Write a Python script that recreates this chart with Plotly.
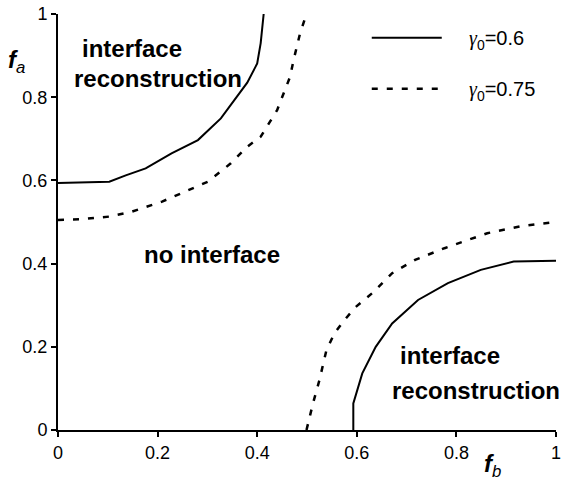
import plotly.graph_objects as go

# Phase boundary f_a(f_b), gamma0 = 0.6: upper-left branch
solid_upper_fb = [0.0, 0.05, 0.103, 0.136, 0.176, 0.228, 0.281, 0.327, 0.354, 0.38, 0.4, 0.407, 0.413]
solid_upper_fa = [0.594, 0.595, 0.597, 0.612, 0.629, 0.665, 0.697, 0.749, 0.793, 0.835, 0.881, 0.93, 1.0]

# gamma0 = 0.6: lower-right branch
solid_lower_fb = [0.593, 0.593, 0.611, 0.638, 0.671, 0.723, 0.783, 0.849, 0.915, 1.0]
solid_lower_fa = [0.0, 0.064, 0.136, 0.2, 0.256, 0.3125, 0.353, 0.385, 0.405, 0.407]

# gamma0 = 0.75: upper-left branch
dash_upper_fb = [0.0, 0.05, 0.103, 0.149, 0.209, 0.261, 0.301, 0.347, 0.38, 0.407, 0.44, 0.453, 0.466, 0.473, 0.486, 0.499]
dash_upper_fa = [0.505, 0.507, 0.513, 0.525, 0.549, 0.577, 0.597, 0.641, 0.681, 0.705, 0.769, 0.809, 0.849, 0.889, 0.953, 1.0]

# gamma0 = 0.75: lower-right branch
dash_lower_fb = [0.499, 0.512, 0.525, 0.539, 0.555, 0.575, 0.598, 0.631, 0.671, 0.717, 0.776, 0.862, 0.93, 1.0]
dash_lower_fa = [0.0, 0.064, 0.12, 0.192, 0.232, 0.264, 0.296, 0.329, 0.377, 0.409, 0.437, 0.473, 0.49, 0.5]

tick_vals = [0, 0.2, 0.4, 0.6, 0.8, 1]
tick_text = ["0", "0.2", "0.4", "0.6", "0.8", "1"]

GAMMA = "<span style=\"font-family:'Liberation Serif';font-style:italic\">γ</span>"
PAD = "\u00a0" * 4
series_names = [PAD + GAMMA + "<sub>0</sub>=0.6", PAD + GAMMA + "<sub>0</sub>=0.75"]

FONT = "Liberation Sans, Arial, sans-serif"

fig = go.Figure()

solid = dict(color="black", width=2)
dashed = dict(color="black", width=2.5, dash="6px,9px")

fig.add_trace(go.Scatter(x=solid_upper_fb, y=solid_upper_fa, mode="lines", line=solid,
                         name=series_names[0], legendgroup="g1"))
fig.add_trace(go.Scatter(x=solid_lower_fb, y=solid_lower_fa, mode="lines", line=solid,
                         showlegend=False, legendgroup="g1"))
fig.add_trace(go.Scatter(x=dash_upper_fb, y=dash_upper_fa, mode="lines", line=dashed,
                         name=series_names[1], legendgroup="g2"))
fig.add_trace(go.Scatter(x=dash_lower_fb, y=dash_lower_fa, mode="lines", line=dashed,
                         showlegend=False, legendgroup="g2"))

axis_common = dict(
    range=[0, 1],
    tickvals=tick_vals,
    ticktext=tick_text,
    showgrid=False,
    zeroline=False,
    showline=True,
    linecolor="black",
    linewidth=2,
    ticks="outside",
    ticklen=5,
    tickwidth=2,
    tickcolor="black",
    ticklabeloverflow="allow",
    tickfont=dict(family=FONT, size=18, color="black"),
)

fig.update_layout(
    width=563,
    height=486,
    margin=dict(l=58, r=2, t=14, b=56),
    paper_bgcolor="white",
    plot_bgcolor="white",
    xaxis=dict(**axis_common),
    yaxis=dict(**axis_common),
    showlegend=True,
    legend=dict(
        x=0.62, y=0.99, xanchor="left", yanchor="top",
        bgcolor="rgba(0,0,0,0)",
        font=dict(family=FONT, size=20, color="black"),
        itemwidth=70,
        tracegroupgap=22,
    ),
)

label_font = dict(family=FONT, size=24, color="black")
region_labels = [
    ("<b>interface</b>", 0.0436, 0.916),
    ("<b>reconstruction</b>", 0.0277, 0.846),
    ("<b>no interface</b>", 0.168, 0.423),
    ("<b>interface</b>", 0.683, 0.18),
    ("<b>reconstruction</b>", 0.667, 0.096),
]
for text, x, y in region_labels:
    fig.add_annotation(x=x, y=y, xref="x", yref="y", text=text, showarrow=False,
                       xanchor="left", yanchor="middle", font=label_font)

# axis titles
fig.add_annotation(x=-0.105, y=0.885, xref="paper", yref="paper",
                   text="<b><i>f</i></b><sub><i>a</i></sub>", showarrow=False,
                   xanchor="left", yanchor="middle",
                   font=dict(family=FONT, size=24, color="black"))
fig.add_annotation(x=0.852, y=-0.085, xref="paper", yref="paper",
                   text="<b><i>f</i></b><sub><i>b</i></sub>", showarrow=False,
                   xanchor="left", yanchor="middle",
                   font=dict(family=FONT, size=24, color="black"))

fig.write_html("out.html")
